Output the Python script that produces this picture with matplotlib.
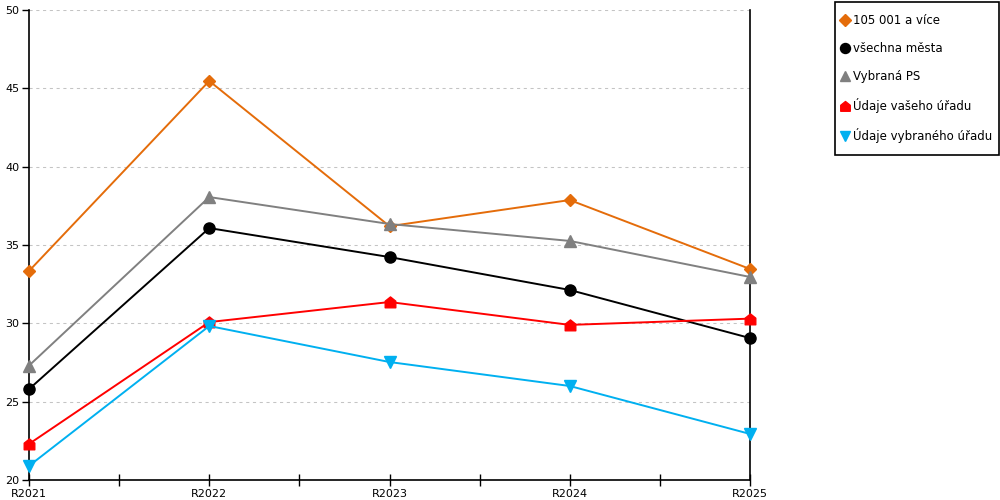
import matplotlib
matplotlib.use("Agg")
import matplotlib.pyplot as plt
from matplotlib.path import Path
from matplotlib.patches import Rectangle

categories = ["R2021", "R2022", "R2023", "R2024", "R2025"]
s_105001 = [33.34, 45.47, 36.2, 37.87, 33.47]
s_vsechna = [25.8, 36.08, 34.23, 32.13, 29.06]
s_vybrana_ps = [27.3, 38.06, 36.34, 35.26, 32.96]
s_vaseho = [22.3, 30.08, 31.36, 29.9, 30.3]
s_vybraneho = [20.9, 29.83, 27.53, 26.0, 22.94]
labels = ["105 001 a více", "všechna města", "Vybraná PS", "Údaje vašeho úřadu", "Údaje vybraného úřadu"]
yticks = [20, 25, 30, 35, 40, 45, 50]

plt.rcParams['font.family'] = ['DejaVu Sans']

house = Path([(-1, -1), (1, -1), (1, 0.25), (0, 1.05), (-1, 0.25), (-1, -1)],
             [Path.MOVETO, Path.LINETO, Path.LINETO, Path.LINETO, Path.LINETO, Path.CLOSEPOLY])

fig = plt.figure(figsize=(10, 5), dpi=100)
ax = fig.add_axes([0.029, 0.04, 0.721, 0.94])

x = list(range(len(categories)))
series = [
    (s_105001, "#E46C0A", "D", 6.5),
    (s_vsechna, "#000000", "o", 8),
    (s_vybrana_ps, "#808080", "^", 8.5),
    (s_vaseho, "#FF0000", house, 8),
    (s_vybraneho, "#00B0F0", "v", 8.5),
]
for (vals, col, mk, ms), lab in zip(series, labels):
    ax.plot(x, vals, color=col, lw=1.4, marker=mk, markersize=ms, label=lab,
            clip_on=False, zorder=3)

ax.set_xlim(0, 4)
ax.set_ylim(20, 50)
ax.set_yticks(yticks)
ax.set_xticks(x)
ax.set_xticklabels(categories)
ax.set_xticks([0.5, 1.5, 2.5, 3.5], minor=True)
ax.grid(axis='y', color='#C4C4C4', linestyle=(0, (3, 3.5)), lw=0.75)
ax.set_axisbelow(True)
ax.spines['top'].set_visible(False)
for side in ['left', 'right', 'bottom']:
    ax.spines[side].set_linewidth(1.2)
    ax.spines[side].set_color('black')
ax.tick_params(axis='x', which='both', direction='inout', length=9, width=1, labelsize=8, pad=2)
ax.tick_params(axis='y', direction='out', length=5, width=1, labelsize=8, pad=2)

# legend frame
fig.patches.append(Rectangle((0.835, 0.69), 0.164, 0.306, transform=fig.transFigure,
                             fill=False, edgecolor='black', lw=1.2))
handles, labs = ax.get_legend_handles_labels()
leg = fig.legend(handles, labs, loc='upper left', bbox_to_anchor=(0.841, 0.972),
                 borderaxespad=0, frameon=False, fontsize=8.5, handlelength=0.7,
                 handletextpad=0.35, labelspacing=1.27, borderpad=0,
                 numpoints=1, markerscale=0.9)
for h in leg.get_lines():
    h.set_linestyle('none')

fig.savefig("out.png", dpi=100)
